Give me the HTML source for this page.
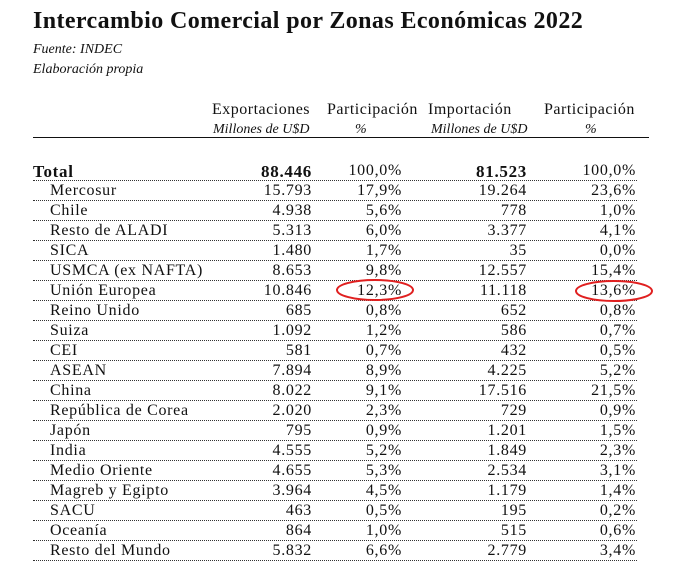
<!DOCTYPE html>
<html><head><meta charset="utf-8"><style>
body{margin:0;background:#fff;width:686px;height:584px;overflow:hidden;position:relative;font-family:"Liberation Serif",serif;color:#111}
.a{position:absolute;white-space:nowrap}
.t{left:33px;top:8px;font-size:24px;font-weight:bold;letter-spacing:0.4px}
.i{font-style:italic;font-size:14px}
.h{font-size:16px;top:101px;letter-spacing:0.5px}
.s{font-style:italic;font-size:14px;top:122px}
.row{position:absolute;left:33px;width:604px;height:20px;border-bottom:1px dotted #333;font-size:16px;letter-spacing:0.7px}
.row span{position:absolute;top:2px}
.r1{right:325px}.r2{right:235px}.r3{right:110px}.r4{right:1px}
</style></head><body>
<div class="a t">Intercambio Comercial por Zonas Económicas 2022</div>
<div class="a i" style="left:33px;top:42px">Fuente: INDEC</div>
<div class="a i" style="left:33px;top:62px">Elaboración propia</div>
<div class="a h" style="left:212px">Exportaciones</div>
<div class="a h" style="left:327px">Participación</div>
<div class="a h" style="left:428px">Importación</div>
<div class="a h" style="left:544px">Participación</div>
<div class="a s" style="left:213px">Millones de U$D</div>
<div class="a s" style="left:355px">%</div>
<div class="a s" style="left:431px">Millones de U$D</div>
<div class="a s" style="left:585px">%</div>
<div class="a" style="left:33px;top:137px;width:616px;border-top:1.5px solid #111"></div>
<div id="rows"></div>
<svg class="a" style="left:0;top:0" width="686" height="584">
<ellipse cx="375" cy="290" rx="38" ry="10" fill="none" stroke="#e02020" stroke-width="2"/>
<ellipse cx="614" cy="291" rx="38" ry="10" fill="none" stroke="#e02020" stroke-width="2"/>
</svg>
<script>
var d=[["Total","88.446","100,0%","81.523","100,0%"],["Mercosur","15.793","17,9%","19.264","23,6%"],["Chile","4.938","5,6%","778","1,0%"],["Resto de ALADI","5.313","6,0%","3.377","4,1%"],["SICA","1.480","1,7%","35","0,0%"],["USMCA (ex NAFTA)","8.653","9,8%","12.557","15,4%"],["Unión Europea","10.846","12,3%","11.118","13,6%"],["Reino Unido","685","0,8%","652","0,8%"],["Suiza","1.092","1,2%","586","0,7%"],["CEI","581","0,7%","432","0,5%"],["ASEAN","7.894","8,9%","4.225","5,2%"],["China","8.022","9,1%","17.516","21,5%"],["República de Corea","2.020","2,3%","729","0,9%"],["Japón","795","0,9%","1.201","1,5%"],["India","4.555","5,2%","1.849","2,3%"],["Medio Oriente","4.655","5,3%","2.534","3,1%"],["Magreb y Egipto","3.964","4,5%","1.179","1,4%"],["SACU","463","0,5%","195","0,2%"],["Oceanía","864","1,0%","515","0,6%"],["Resto del Mundo","5.832","6,6%","2.779","3,4%"]];
var h="";d.forEach(function(r,i){var b=i==0;var bs=' style="font-weight:bold;font-size:17px"';h+='<div class="row" style="top:'+(160+i*20)+'px"><span style="left:'+(b?0:17)+'px;'+(b?'font-weight:bold;font-size:17px':'')+'">'+r[0]+'</span><span class="r1"'+(b?bs:'')+'>'+r[1]+'</span><span class="r2">'+r[2]+'</span><span class="r3"'+(b?bs:'')+'>'+r[3]+'</span><span class="r4">'+r[4]+'</span></div>'});
document.getElementById("rows").innerHTML=h;
</script>
</body></html>
